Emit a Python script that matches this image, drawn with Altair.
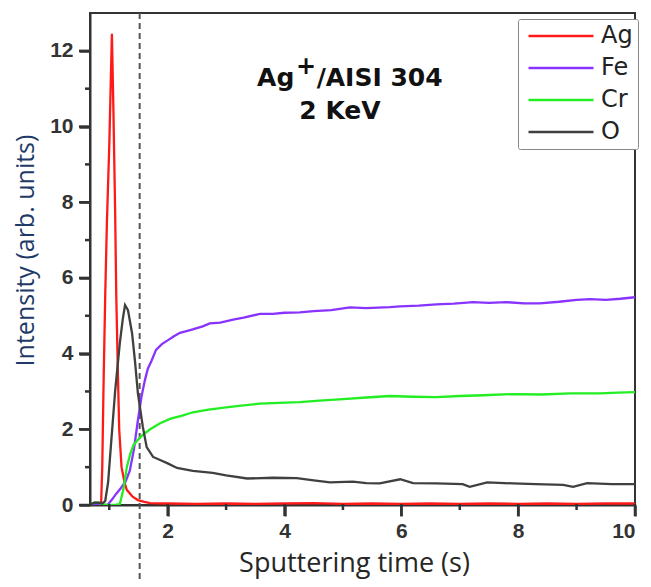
import altair as alt
import pandas as pd

elements = ["Ag", "Fe", "Cr", "O"]
colors = ["#ff1a1a", "#8833ff", "#22ee22", "#404040"]

ag_t = [0.67, 0.8, 0.86, 0.88, 0.9, 0.93, 0.96, 1.0, 1.045, 1.07, 1.1, 1.12, 1.15, 1.17, 1.21, 1.26, 1.3, 1.4, 1.49, 1.6, 1.7,
        2.0, 2.5, 3.0, 3.5, 4.0, 4.5, 5.0, 5.5, 6.0, 6.5, 7.0, 7.5, 8.0, 8.5, 9.0, 9.5, 10.0]
ag_y = [0.01, 0.01, 0.02, 1.0, 3.0, 5.5, 7.5, 9.5, 12.45, 10.5, 7.8, 5.5, 3.3, 2.0, 1.0, 0.6, 0.4, 0.22, 0.13, 0.08, 0.05,
        0.04, 0.03, 0.04, 0.03, 0.04, 0.05, 0.03, 0.04, 0.03, 0.04, 0.03, 0.04, 0.03, 0.04, 0.03, 0.04, 0.04]

fe_t = [0.67, 0.95, 0.98, 1.05, 1.12, 1.2, 1.28, 1.35, 1.42, 1.49, 1.55, 1.61, 1.66, 1.72, 1.8, 1.9, 2.0, 2.1, 2.21, 2.4,
        2.6, 2.72, 2.9, 3.12, 3.3, 3.58, 3.8, 4.0, 4.26, 4.5, 4.8, 5.12, 5.4, 5.8, 5.98, 6.3, 6.6, 6.9, 7.23, 7.5,
        7.8, 8.1, 8.37, 8.7, 9.0, 9.23, 9.5, 9.75, 10.0]
fe_y = [0.0, 0.0, 0.02, 0.15, 0.3, 0.45, 0.62, 0.9, 1.45, 2.24, 2.85, 3.3, 3.6, 3.8, 4.1, 4.25, 4.35, 4.45, 4.55, 4.63,
        4.72, 4.8, 4.82, 4.9, 4.95, 5.05, 5.05, 5.08, 5.09, 5.12, 5.15, 5.22, 5.2, 5.23, 5.25, 5.27, 5.3, 5.32, 5.36, 5.34,
        5.36, 5.33, 5.33, 5.37, 5.42, 5.44, 5.42, 5.45, 5.49]

cr_t = [0.67, 0.75, 0.82, 0.87, 0.95, 1.1, 1.18, 1.24, 1.3, 1.36, 1.42, 1.49, 1.57, 1.7, 1.87, 2.05, 2.25, 2.43, 2.7, 3.0,
        3.3, 3.58, 3.9, 4.26, 4.6, 5.0, 5.4, 5.8, 6.2, 6.6, 7.0, 7.4, 7.9, 8.4, 8.9, 9.4, 9.7, 10.0]
cr_y = [0.02, 0.07, 0.06, 0.03, 0.0, 0.0, 0.02, 0.4, 1.0, 1.35, 1.6, 1.72, 1.85, 2.0, 2.16, 2.28, 2.36, 2.45, 2.52, 2.58,
        2.63, 2.68, 2.7, 2.72, 2.76, 2.8, 2.84, 2.88, 2.86, 2.85, 2.88, 2.9, 2.93, 2.92, 2.95, 2.95, 2.97, 2.98]

o_t = [0.67, 0.75, 0.82, 0.88, 0.93, 0.98, 1.03, 1.1, 1.18, 1.23, 1.27, 1.32, 1.39, 1.44, 1.49, 1.575, 1.64, 1.75, 1.87,
       2.0, 2.16, 2.43, 2.77, 3.0, 3.36, 3.8, 4.21, 4.5, 4.78, 5.17, 5.4, 5.63, 5.98, 6.2, 6.6, 7.05, 7.17, 7.47, 7.91,
       8.3, 8.77, 8.94, 9.18, 9.6, 10.0]
o_y = [0.02, 0.06, 0.06, 0.04, 0.1, 0.6, 1.6, 3.0, 4.27, 4.9, 5.28, 5.15, 4.54, 3.8, 2.95, 2.06, 1.53, 1.27, 1.19,
       1.1, 0.98, 0.9, 0.85, 0.78, 0.7, 0.72, 0.71, 0.65, 0.6, 0.62, 0.58, 0.57, 0.68, 0.58, 0.57, 0.55, 0.48, 0.6, 0.57,
       0.55, 0.53, 0.48, 0.58, 0.55, 0.55]

x_ticks = [2, 4, 6, 8, 10]
x_minor = [1, 3, 5, 7, 9]
y_ticks = [0, 2, 4, 6, 8, 10, 12]
y_minor = [1, 3, 5, 7, 9, 11]
marker_t = [1.52]

annot_left_text = ["Ag", "/AISI 304"]
annot_left_t = [3.53, 4.55]
annot_left_y = [11.08, 11.08]
annot_left_size = [25, 25]
annot_center_text = ["+", "2 KeV"]
annot_center_t = [4.37, 4.95]
annot_center_y = [11.39, 10.21]
annot_center_size = [24, 25]

rows = []
for el, ts, ys in [("Ag", ag_t, ag_y), ("Fe", fe_t, fe_y), ("Cr", cr_t, cr_y), ("O", o_t, o_y)]:
    for t, v in zip(ts, ys):
        rows.append({"el": el, "t": t, "v": v})
df = pd.DataFrame(rows)

W, H = 545, 492
AX = "#333333"
X0, X1, Y0, Y1 = 0.67, 10, 0, 13
XU = (X1 - X0) / W   # data units per pixel, x
YU = (Y1 - Y0) / H   # data units per pixel, y
xscale = alt.Scale(domain=[X0, X1], nice=False, zero=False)
yscale = alt.Scale(domain=[Y0, Y1], nice=False, zero=False)

axis_common = dict(domain=True, domainColor=AX, domainWidth=2, ticks=True, tickColor=AX, tickWidth=2.5,
                   tickSize=11, grid=False, labelFont="Liberation Sans", labelFontSize=21,
                   labelFontWeight="bold", labelColor="#333", format="d")

lines = alt.Chart(df).mark_line(strokeWidth=2.3, clip=True).encode(
    x=alt.X("t:Q", scale=xscale,
            axis=alt.Axis(values=x_ticks, title="Sputtering time (s)", titleX=264, titleY=66,
                          titleBaseline="alphabetic", titleAlign="center",
                          titleFont="Open Sans", titleFontSize=27, titleFontWeight="normal", titleColor="#262626",
                          labelPadding=4, **axis_common)),
    y=alt.Y("v:Q", scale=yscale,
            axis=alt.Axis(values=y_ticks, title="Intensity (arb. units)", titleX=-57, titleY=237,
                          titleAngle=270, titleBaseline="alphabetic", titleAlign="center",
                          titleFont="Open Sans", titleFontSize=25, titleFontWeight="normal", titleColor="#1f3a68",
                          labelPadding=6, **axis_common)),
    color=alt.Color("el:N", scale=alt.Scale(domain=elements, range=colors),
                    legend=alt.Legend(title=None, orient="none", legendX=428, legendY=6,
                                      symbolType="M-1,0H9", symbolSize=169, symbolStrokeWidth=2.5,
                                      labelFont="DejaVu Sans", labelFontSize=24, labelColor="#222",
                                      labelOffset=54, strokeColor="#888", fillColor="white",
                                      padding=5, rowPadding=8, cornerRadius=2)),
)


def xtick_rects(vals, length_px):
    return alt.Chart(pd.DataFrame({"t": vals})).transform_calculate(
        a=f"datum.t - {1.25 * XU}", b=f"datum.t + {1.25 * XU}"
    ).mark_rect(fill=AX, stroke=None, clip=False).encode(
        x=alt.X("a:Q", scale=xscale), x2="b:Q",
        y=alt.datum(Y0 + 1 * YU), y2=alt.datum(Y0 - length_px * YU))


def ytick_rects(vals, length_px):
    return alt.Chart(pd.DataFrame({"v": vals})).transform_calculate(
        a=f"datum.v - {1.25 * YU}", b=f"datum.v + {1.25 * YU}"
    ).mark_rect(fill=AX, stroke=None, clip=False).encode(
        y=alt.Y("a:Q", scale=yscale), y2="b:Q",
        x=alt.datum(X0 + 1 * XU), x2=alt.datum(X0 - length_px * XU))


dash = alt.Chart(pd.DataFrame({"t": marker_t})).mark_rule(
    color="#555", strokeWidth=2, strokeDash=[6, 4], clip=False).encode(
    x=alt.X("t:Q", scale=xscale), y=alt.datum(13), y2=alt.datum(-2.0))

ann_l = alt.Chart(pd.DataFrame({"txt": annot_left_text, "t": annot_left_t, "v": annot_left_y,
                                "s": annot_left_size})).mark_text(
    align="left", baseline="alphabetic", font="DejaVu Sans", fontWeight="bold", color="#111").encode(
    x=alt.X("t:Q", scale=xscale), y=alt.Y("v:Q", scale=yscale), text="txt:N",
    size=alt.Size("s:Q", scale=None, legend=None))
ann_c = alt.Chart(pd.DataFrame({"txt": annot_center_text, "t": annot_center_t, "v": annot_center_y,
                                "s": annot_center_size})).mark_text(
    align="center", baseline="alphabetic", font="DejaVu Sans", fontWeight="bold", color="#111").encode(
    x=alt.X("t:Q", scale=xscale), y=alt.Y("v:Q", scale=yscale), text="txt:N",
    size=alt.Size("s:Q", scale=None, legend=None))

chart = alt.layer(dash, lines,
                  xtick_rects(x_ticks, 11), xtick_rects(x_minor, 5),
                  ytick_rects(y_ticks, 11), ytick_rects(y_minor, 5),
                  ann_l, ann_c).properties(
    width=W, height=H,
    padding={"left": 82, "top": 5, "right": 8, "bottom": 74},
    autosize=alt.AutoSizeParams(type="none"),
).configure_view(stroke=AX, strokeWidth=2)

chart.save("out.html", embed_options={"renderer": "svg", "actions": False})
